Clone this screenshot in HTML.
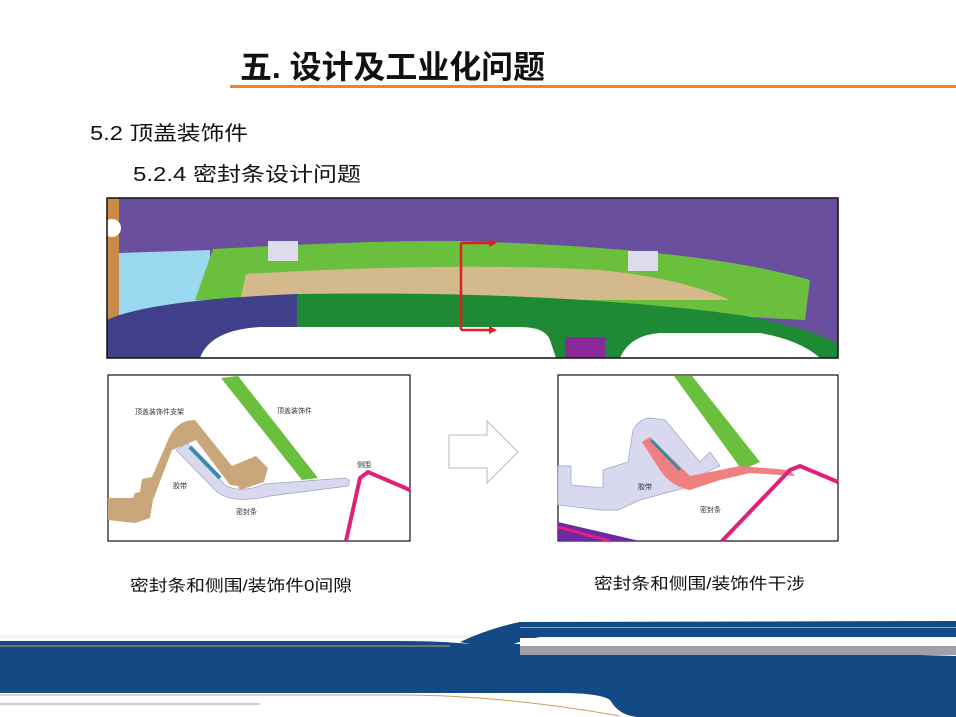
<!DOCTYPE html>
<html><head><meta charset="utf-8"><style>
html,body{margin:0;padding:0;background:#fff;}
svg{display:block}
text{font-family:"Liberation Sans","Noto Sans CJK SC",sans-serif;}
</style></head><body>
<svg width="956" height="717" viewBox="0 0 956 717" xmlns="http://www.w3.org/2000/svg">
<rect width="956" height="717" fill="#fff"/>
<!-- header -->
<text x="240" y="78" font-size="32" font-weight="bold" fill="#111" textLength="305" lengthAdjust="spacingAndGlyphs">五. 设计及工业化问题</text>
<rect x="230" y="85" width="726" height="3" fill="#f0822a"/>
<text x="90" y="140" font-size="20" fill="#111" textLength="158" lengthAdjust="spacingAndGlyphs">5.2 顶盖装饰件</text>
<text x="133" y="181" font-size="20" fill="#111" textLength="228" lengthAdjust="spacingAndGlyphs">5.2.4 密封条设计问题</text>

<!-- top image -->
<g>
<rect x="107" y="198" width="731" height="160" fill="#6a4f9e"/>
<rect x="107" y="198" width="12" height="160" fill="#c98a4a"/>
<circle cx="112" cy="228" r="9" fill="#fff"/>
<path d="M119 253 L210 250 L210 300 L119 315 Z" fill="#9ad8f0"/>
<path d="M213 249 Q380 240 460 241 Q700 248 810 280 L805 320 L520 305 L195 300 Z" fill="#6ac03c"/>
<path d="M246 274 Q450 262 600 270 Q680 278 730 300 L240 300 Z" fill="#d4b98c"/>
<rect x="268" y="241" width="30" height="20" fill="#dcdcec"/>
<rect x="628" y="251" width="30" height="20" fill="#dcdcec"/>
<path d="M107 320 Q150 300 297 294 L297 358 L107 358 Z" fill="#3f3f8a"/>
<path d="M297 294 Q550 290 740 315 Q820 330 838 345 L838 358 L297 358 Z" fill="#1e8a36"/>
<path d="M200 358 Q210 330 260 327 L520 327 Q545 327 550 340 L556 358 Z" fill="#fff"/>
<path d="M620 358 Q630 335 660 333 L760 333 Q800 340 820 358 Z" fill="#fff"/>
<rect x="565" y="337" width="40" height="21" fill="#8a2a9a"/>
<path d="M461 243 V330 M461 243 H490 M461 330 H490" stroke="#e02020" stroke-width="2.5" fill="none"/>
<path d="M489 239 L497 243 L489 247 Z M489 326 L497 330 L489 334 Z" fill="#e02020"/>
<rect x="107" y="198" width="731" height="160" fill="none" stroke="#111" stroke-width="1.5"/>
</g>

<!-- left panel -->
<g>
<rect x="108" y="375" width="302" height="166" fill="#fff" stroke="#111" stroke-width="1.2"/>
<path d="M108 498 L133 498 L135 493 L140 492 L142 479 L152 477 L168 440 Q176 420 195 420 L232 466 L256 456 L268 468 L264 482 L240 490 L238 486 L230 485 L196 440 L172 450 L153 500 L150 518 L135 523 L108 520 Z" fill="#c9a77a"/>
<path d="M221 378 L238 376 L318 478 L302 480 Z" fill="#6ac03c"/>
<path d="M176 450 L187 443 L225 485 Q240 494 265 484 L345 478 Q352 480 348 486 L270 496 Q230 505 215 490 Z" fill="#d8d8ee" stroke="#a0a0c0" stroke-width="0.7"/>
<path d="M190 447 L220 478" stroke="#3a8aaa" stroke-width="4"/>
<path d="M346 541 L360 478 L368 472 L410 490" stroke="#e0207a" stroke-width="4" fill="none"/>
<text x="135" y="414" font-size="7" fill="#333">顶盖装饰件支架</text>
<text x="277" y="413" font-size="7" fill="#333">顶盖装饰件</text>
<text x="357" y="467" font-size="7" fill="#333">侧围</text>
<text x="173" y="488" font-size="7" fill="#333">胶带</text>
<text x="236" y="514" font-size="7" fill="#333">密封条</text>
</g>

<!-- arrow -->
<path d="M449 435 H487 V421 L518 452 L487 483 V468 H449 Z" fill="#fff" stroke="#bbb" stroke-width="1"/>

<!-- right panel -->
<g>
<rect x="558" y="375" width="280" height="166" fill="#fff" stroke="#111" stroke-width="1.2"/>
<path d="M558 466 L571 466 L571 485 L603 488 L603 470 L628 462 L633 430 Q640 418 650 418 L665 420 L700 462 L710 452 L720 466 L690 480 L685 488 L640 500 L618 510 L600 510 L558 505 Z" fill="#d8d8ee" stroke="#a0a0c0" stroke-width="0.7"/>
<path d="M674 376 L692 376 L760 462 L742 470 Z" fill="#6ac03c"/>
<path d="M642 442 L650 437 L690 476 L740 466 L790 470 L795 476 L750 473 L720 480 L690 490 Q670 486 660 470 Z" fill="#f08080"/>
<path d="M651 440 L680 470" stroke="#3a8aaa" stroke-width="3"/>
<path d="M722 541 L790 470 L800 466 L838 482" stroke="#e0207a" stroke-width="4" fill="none"/>
<path d="M558 522 L640 541 L558 541 Z" fill="#6a2aa0"/>
<path d="M558 527 L610 541" stroke="#e0207a" stroke-width="3"/>
<text x="638" y="489" font-size="7" fill="#333">胶带</text>
<text x="700" y="512" font-size="7" fill="#333">密封条</text>
</g>

<text x="130" y="591" font-size="16" fill="#111" textLength="222" lengthAdjust="spacingAndGlyphs">密封条和侧围/装饰件0间隙</text>
<text x="594" y="589" font-size="16" fill="#111" textLength="211" lengthAdjust="spacingAndGlyphs">密封条和侧围/装饰件干涉</text>

<!-- footer -->
<g>
<rect x="0" y="635" width="956" height="3" fill="#f4f4f4"/>
<path d="M0 641 L400 641 Q440 641 470 644 L520 644 L956 656 L956 717 L640 717 Q620 717 610 700 Q600 693 560 693 L0 693 Z" fill="#134a83"/>
<path d="M0 646 L450 646" stroke="#caa060" stroke-width="1"/>
<path d="M460 642 Q490 628 520 622 L956 621 L956 637 L540 637 Q520 640 500 650 Z" fill="#134a83"/>
<rect x="520" y="646" width="436" height="9" fill="#a0a0a8"/>
<rect x="520" y="638" width="436" height="8" fill="#fff"/>
<rect x="520" y="627" width="436" height="1" fill="#caa060"/>
<path d="M0 695 L400 695 Q500 695 620 716" stroke="#caa060" stroke-width="1" fill="none"/>
<rect x="0" y="703" width="260" height="2" fill="#ccc"/>
</g>
</svg>
</body></html>
